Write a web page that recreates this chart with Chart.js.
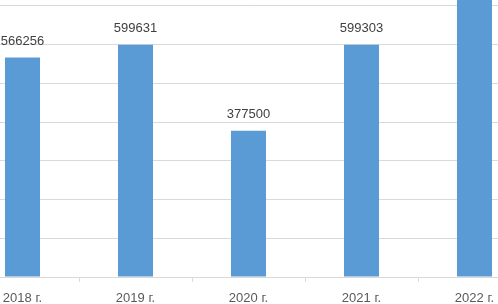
<!DOCTYPE html>
<html>
<head>
<meta charset="utf-8">
<script src="https://cdn.jsdelivr.net/npm/chart.js@4"></script>
<style>
  html, body { margin: 0; padding: 0; background: #fff; overflow: hidden; width: 498px; height: 304px; }
  /* the picture is a crop of a larger chart, so the canvas sticks out on all sides */
  #wrap { position: absolute; left: -34px; top: -33px; width: 565px; height: 340px; }
</style>
</head>
<body>
<div id="wrap"><canvas id="chart"></canvas></div>
<script>
// data (2022 bar is cut off at the top, value estimated)
const years = ["2018 г.", "2019 г.", "2020 г.", "2021 г.", "2022 г."];
const values = [566256, 599631, 377500, 599303, 735000];

const barColor = "#5B9BD5";
const gridColor = "#D9D9D9";

//draws the value above each bar
const valueLabels = {
  id: "valueLabels",
  afterDatasetsDraw(chart) {
    const ctx = chart.ctx;
    const meta = chart.getDatasetMeta(0);
    ctx.save();
    ctx.fillStyle = "#404040";
    ctx.font = "13px 'Liberation Sans', sans-serif";
    ctx.textAlign = "center";
    ctx.textBaseline = "bottom";
    meta.data.forEach((bar, i) => {
      ctx.fillText(String(values[i]), bar.x, bar.y - 10);
    });
    ctx.restore();
  },
};

new Chart(document.getElementById("chart"), {
  type: "bar",
  plugins: [valueLabels],
  data: {
    labels: years,
    datasets: [
      {
        data: values,
        backgroundColor: barColor,
        borderWidth: 0,
        categoryPercentage: 1,
        barPercentage: 0.31,
      },
    ],
  },
  options: {
    responsive: true,
    maintainAspectRatio: false,
    devicePixelRatio: 1,
    animation: false,
    layout: { padding: 0 },
    plugins: {
      legend: { display: false },
      tooltip: { enabled: false },
    },
    scales: {
      x: {
        grid: {
          offset: true,
          drawOnChartArea: false,
          drawTicks: true,
          tickLength: 5,
          color: gridColor,
        },
        border: { color: gridColor },
        ticks: {
          color: "#595959",
          font: { family: "'Liberation Sans', sans-serif", size: 13 },
          padding: 9,
          maxRotation: 0,
        },
        afterFit: (scale) => { scale.height = 30; },
      },
      y: {
        min: 0,
        max: 800000,
        ticks: { display: false, stepSize: 100000 },
        grid: { color: gridColor, drawTicks: false },
        border: { display: false },
        afterFit: (scale) => { scale.width = 0; },
      },
    },
  },
});
</script>
</body>
</html>
